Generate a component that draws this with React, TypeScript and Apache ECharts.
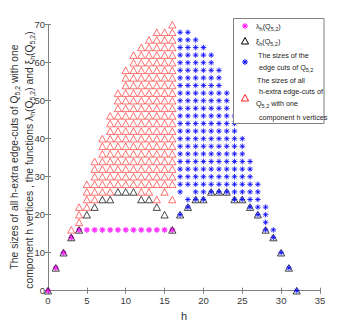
import React, { useEffect, useRef } from "react";
import * as echarts from "echarts";

// ---------- data ----------
const lambdaH = [0, 1, 2, 3, 4, 5, 6, 7, 8, 9, 10, 11, 12, 13, 14, 15, 16];
const lambdaValues = [0, 6, 10, 14, 16, 16, 16, 16, 16, 16, 16, 16, 16, 16, 16, 16, 16];

const xiH = [0, 1, 2, 3, 4, 5, 6, 7, 8, 9, 10, 11, 12, 13, 14, 15, 16, 17, 18, 19, 20, 21, 22, 23, 24, 25, 26, 27, 28, 29, 30, 31, 32];
const xiValues = [0, 6, 10, 14, 16, 20, 22, 24, 24, 26, 26, 26, 24, 24, 22, 20, 16, 20, 22, 24, 24, 26, 26, 26, 24, 24, 22, 20, 16, 14, 10, 6, 0];

// one-component h-extra edge-cut sizes (red triangles), one list per h
const redH = [3, 4, 5, 6, 7, 8, 9, 10, 11, 12, 13, 14, 15, 16];
const redColumns = [
  [16],
  [18, 20, 22],
  [22, 24, 26, 28],
  [24, 26, 28, 30, 32, 34],
  [26, 28, 30, 32, 34, 36, 38, 40],
  [26, 28, 30, 32, 34, 36, 38, 40, 42, 44, 46],
  [28, 30, 32, 34, 36, 38, 40, 42, 44, 46, 48, 50, 52],
  [28, 30, 32, 34, 36, 38, 40, 42, 44, 46, 48, 50, 52, 54, 56, 58],
  [28, 30, 32, 34, 36, 38, 40, 42, 44, 46, 48, 50, 52, 54, 56, 58, 60, 62],
  [26, 28, 30, 32, 34, 36, 38, 40, 42, 44, 46, 48, 50, 52, 54, 56, 58, 60, 62, 64],
  [26, 28, 30, 32, 34, 36, 38, 40, 42, 44, 46, 48, 50, 52, 54, 56, 58, 60, 62, 64, 66],
  [24, 28, 30, 32, 34, 36, 38, 40, 42, 44, 46, 48, 50, 52, 54, 56, 58, 60, 62, 64, 66, 68],
  [26, 28, 30, 32, 34, 36, 38, 40, 42, 44, 46, 48, 50, 52, 54, 56, 58, 60, 62, 64, 66, 68],
  [24, 28, 30, 32, 34, 36, 38, 40, 42, 44, 46, 48, 50, 52, 54, 56, 58, 60, 62, 64, 66, 68, 70],
];

// sizes of the edge cuts (blue asterisks), one list per h
const blueH = [17, 18, 19, 20, 21, 22, 23, 24, 25, 26, 27, 28, 29, 30, 31, 32];
const blueColumns = [
  [20, 26, 28, 30, 32, 34, 36, 38, 40, 42, 44, 46, 48, 50, 52, 54, 56, 58, 60, 62, 64, 66, 68],
  [22, 24, 28, 30, 32, 34, 36, 38, 40, 42, 44, 46, 48, 50, 52, 54, 56, 58, 60, 62, 64, 66, 68],
  [24, 26, 28, 30, 32, 34, 36, 38, 40, 42, 44, 46, 48, 50, 52, 54, 56, 58, 60, 62, 64, 66],
  [24, 26, 28, 30, 32, 34, 36, 38, 40, 42, 44, 46, 48, 50, 52, 54, 56, 58, 60, 62, 64],
  [26, 28, 30, 32, 34, 36, 38, 40, 42, 44, 46, 48, 50, 52, 54, 56, 58, 60, 62],
  [26, 28, 30, 32, 34, 36, 38, 40, 42, 44, 46, 48, 50, 52, 54, 56, 58],
  [26, 28, 30, 32, 34, 36, 38, 40, 42, 44, 46, 48, 50, 52],
  [24, 26, 28, 30, 32, 34, 36, 38, 40, 42, 44, 46],
  [24, 26, 28, 30, 32, 34, 36, 38, 40],
  [22, 24, 26, 28, 30, 32, 34],
  [20, 22, 24, 26, 28],
  [16, 18, 20, 22],
  [14, 16],
  [10],
  [6],
  [0],
];

const xTicks = [0, 5, 10, 15, 20, 25, 30, 35];
const yTicks = [0, 10, 20, 30, 40, 50, 60, 70];

// ---------- helpers ----------
const FONT = "'Liberation Sans', Arial, Helvetica, sans-serif";
const ASTERISK = "path://M5 0L5 10M0 5L10 5M1.6 1.6L8.4 8.4M1.6 8.4L8.4 1.6";
const AXIS_COLOR = "#808080";

function pairs(hs: number[], vals: number[]) {
  return hs.map((h, i) => [h, vals[i]]);
}
function columnsToPoints(hs: number[], cols: number[][]) {
  const out: number[][] = [];
  hs.forEach((h, i) => cols[i].forEach((v) => out.push([h, v])));
  return out;
}

function asteriskLines(x: number, y: number, color: string) {
  const r = 3;
  const d = 2.1;
  const st = { stroke: color, lineWidth: 1 };
  const segs = [
    [0, -r, 0, r],
    [-r, 0, r, 0],
    [-d, -d, d, d],
    [-d, d, d, -d],
  ];
  return segs.map((s) => ({
    type: "line",
    z: 120,
    shape: { x1: x + s[0], y1: y + s[1], x2: x + s[2], y2: y + s[3] },
    style: { ...st },
  }));
}
function triangleShape(x: number, y: number, color: string) {
  return {
    type: "polygon",
    z: 120,
    shape: { points: [[x, y - 3.5], [x + 3.6, y + 3], [x - 3.6, y + 3]] },
    style: { fill: "none", stroke: color, lineWidth: 1 },
  };
}

const subRich = {
  sub: { fontSize: 7, fontFamily: FONT, verticalAlign: "bottom", lineHeight: 14, fill: "#333" },
};
const subRichSmall = {
  sub: { fontSize: 5.5, fontFamily: FONT, verticalAlign: "bottom", lineHeight: 11, fill: "#222" },
};

function legendText(x: number, y: number, text: string) {
  return {
    type: "text",
    x,
    y,
    z: 120,
    style: {
      text,
      fontSize: 7.2,
      fontFamily: FONT,
      fill: "#222",
      align: "left",
      verticalAlign: "middle",
      lineHeight: 11,
      rich: subRichSmall,
    },
  };
}

export default function App() {
  const ref = useRef<HTMLDivElement>(null);

  useEffect(() => {
    if (!ref.current) return;
    const chart = echarts.init(ref.current, undefined, { renderer: "svg" });

    const axisCommon = {
      type: "value",
      axisLine: { show: true, lineStyle: { color: AXIS_COLOR, width: 1 } },
      axisTick: { show: true, inside: true, length: 3, lineStyle: { color: AXIS_COLOR } },
      splitLine: { show: false },
    };

    const option: any = {
      animation: false,
      backgroundColor: "#ffffff",
      grid: { left: 48, right: 34, top: 24.7, bottom: 36.3, containLabel: false },
      xAxis: [
        {
          ...axisCommon,
          min: xTicks[0],
          max: xTicks[xTicks.length - 1],
          interval: 5,
          position: "bottom",
          name: "h",
          nameLocation: "middle",
          nameGap: 20,
          nameTextStyle: { fontSize: 11, fontFamily: FONT, color: "#333" },
          axisLabel: { fontSize: 9.5, fontFamily: FONT, color: "#3a3a3a", margin: 5 },
        },
        {
          ...axisCommon,
          min: xTicks[0],
          max: xTicks[xTicks.length - 1],
          interval: 5,
          position: "top",
          axisLabel: { show: false },
        },
      ],
      yAxis: [
        {
          ...axisCommon,
          min: yTicks[0],
          max: yTicks[yTicks.length - 1],
          interval: 10,
          position: "left",
          axisLabel: { fontSize: 9.5, fontFamily: FONT, color: "#3a3a3a", margin: 3 },
        },
        {
          ...axisCommon,
          min: yTicks[0],
          max: yTicks[yTicks.length - 1],
          interval: 10,
          position: "right",
          axisLabel: { show: false },
        },
      ],
      series: [
        {
          name: "lambda",
          type: "scatter",
          data: pairs(lambdaH, lambdaValues),
          symbol: ASTERISK,
          symbolSize: 6,
          itemStyle: { color: "transparent", borderColor: "#ff00ff", borderWidth: 1.2 },
          z: 2,
        },
        {
          name: "xi",
          type: "scatter",
          data: pairs(xiH, xiValues),
          symbol: "triangle",
          symbolSize: [7.2, 6.6],
          itemStyle: { color: "transparent", borderColor: "#000000", borderWidth: 0.9 },
          z: 3,
        },
        {
          name: "edge cuts",
          type: "scatter",
          data: columnsToPoints(blueH, blueColumns),
          symbol: ASTERISK,
          symbolSize: 5.6,
          itemStyle: { color: "transparent", borderColor: "#0000ff", borderWidth: 1 },
          z: 4,
        },
        {
          name: "one component",
          type: "scatter",
          data: columnsToPoints(redH, redColumns),
          symbol: "triangle",
          symbolSize: [7.2, 6.6],
          itemStyle: { color: "transparent", borderColor: "#ff2020", borderWidth: 0.8 },
          z: 5,
        },
      ],
      graphic: [
        {
          type: "text",
          x: 14,
          y: 157,
          rotation: Math.PI / 2,
          style: {
            text: "The sizes of all h-extra edge-cuts of Q{sub|5,2} with one",
            fontSize: 10.3,
            fontFamily: FONT,
            fill: "#333",
            align: "center",
            verticalAlign: "middle",
            lineHeight: 14,
            rich: subRich,
          },
        },
        {
          type: "text",
          x: 29,
          y: 160,
          rotation: Math.PI / 2,
          style: {
            text: "component h vertices , the functions \u03bb{sub|h}(Q{sub|5,2}) and \u03be{sub|h}(Q{sub|5,2})",
            fontSize: 10.3,
            fontFamily: FONT,
            fill: "#333",
            align: "center",
            verticalAlign: "middle",
            lineHeight: 14,
            rich: subRich,
          },
        },
        {
          type: "rect",
          z: 100,
          shape: { x: 233.5, y: 18.5, width: 90.5, height: 105 },
          style: { fill: "#ffffff", stroke: AXIS_COLOR, lineWidth: 1 },
        },
        ...asteriskLines(245, 26, "#ff00ff"),
        triangleShape(245, 41, "#000000"),
        ...asteriskLines(245, 62, "#0000ff"),
        triangleShape(245, 98, "#ff2020"),
        legendText(256, 26, "\u03bb{sub|h}(Q{sub|5,2})"),
        legendText(256, 41, "\u03be{sub|h}(Q{sub|5,2})"),
        legendText(258, 55, "The sizes of the"),
        legendText(259, 67, "edge cuts of Q{sub|5,2}"),
        legendText(257, 80, "The sizes of all"),
        legendText(259, 91, "h-extra edge-cuts of"),
        legendText(256, 103, "Q{sub|5,2} with one"),
        legendText(259, 117, "component h vertices"),
      ],
    };

    chart.setOption(option);
    return () => chart.dispose();
  }, []);

  return (
    <div
      ref={ref}
      style={{ position: "fixed", left: 0, top: 0, width: 354, height: 327, background: "#fff" }}
    />
  );
}
